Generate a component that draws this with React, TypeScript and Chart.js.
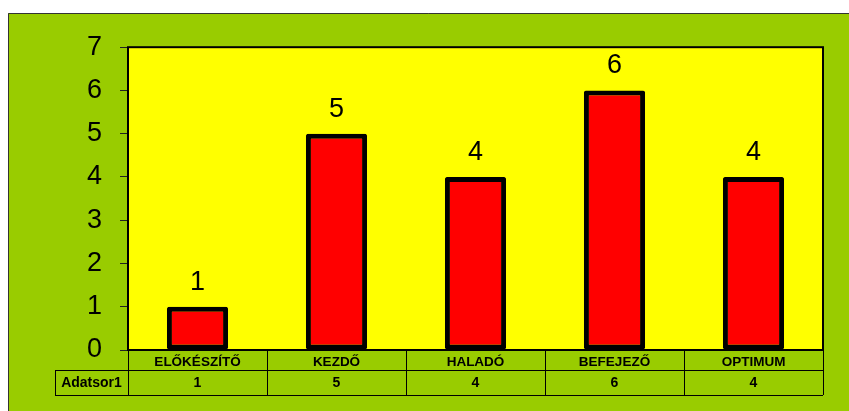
import React, { useEffect, useRef } from "react";
import { Chart, registerables } from "chart.js";

Chart.register(...registerables);

const categories = ["ELŐKÉSZÍTŐ", "KEZDŐ", "HALADÓ", "BEFEJEZŐ", "OPTIMUM"];
const seriesName = "Adatsor1";
const values = [1, 5, 4, 6, 4];
const yTicks = [0, 1, 2, 3, 4, 5, 6, 7];

const FONT = "'Liberation Sans', Arial, sans-serif";

const framePlugin = {
  id: "frame",
  beforeDraw(chart: any) {
    const { ctx, width, height } = chart;
    ctx.save();
    ctx.fillStyle = "#99CC00";
    ctx.fillRect(0, 0, width, height);
    ctx.strokeStyle = "#333333";
    ctx.lineWidth = 1;
    ctx.beginPath();
    ctx.moveTo(0.5, height);
    ctx.lineTo(0.5, 0.5);
    ctx.lineTo(width, 0.5);
    ctx.stroke();
    const a = chart.chartArea;
    ctx.fillStyle = "#FFFF00";
    ctx.fillRect(a.left, a.top, a.right - a.left, a.bottom - a.top);
    ctx.restore();
  },
  beforeDatasetsDraw(chart: any) {
    const { ctx } = chart;
    const a = chart.chartArea;
    ctx.save();
    ctx.strokeStyle = "#000000";
    ctx.lineWidth = 2;
    ctx.strokeRect(a.left, a.top, a.right - a.left, a.bottom - a.top);
    ctx.restore();
  },
  afterDatasetsDraw(chart: any) {
    const { ctx } = chart;
    const a = chart.chartArea;
    const meta = chart.getDatasetMeta(0);
    ctx.save();
    // data labels
    ctx.fillStyle = "#000000";
    ctx.font = `27px ${FONT}`;
    ctx.textAlign = "center";
    ctx.textBaseline = "alphabetic";
    meta.data.forEach((bar: any, i: number) => {
      ctx.fillText(String(values[i]), bar.x, bar.y - 17);
    });

    // data table
    const n = categories.length;
    const colW = (a.right - a.left) / n;
    const row1Top = a.bottom;
    const row1Bot = a.bottom + 20;
    const row2Bot = a.bottom + 45;
    const labelLeft = 47;
    ctx.strokeStyle = "#000000";
    ctx.lineWidth = 1;
    ctx.beginPath();
    ctx.moveTo(labelLeft, row1Bot + 0.5);
    ctx.lineTo(a.right, row1Bot + 0.5);
    ctx.moveTo(labelLeft, row2Bot + 0.5);
    ctx.lineTo(a.right, row2Bot + 0.5);
    ctx.moveTo(labelLeft + 0.5, row1Bot);
    ctx.lineTo(labelLeft + 0.5, row2Bot);
    for (let i = 0; i <= n; i++) {
      const x = Math.round(a.left + i * colW) + 0.5;
      ctx.moveTo(x, row1Top);
      ctx.lineTo(x, row2Bot);
    }
    ctx.stroke();

    ctx.textAlign = "center";
    ctx.textBaseline = "middle";
    ctx.font = `bold 13.5px ${FONT}`;
    for (let i = 0; i < n; i++) {
      const cx = a.left + (i + 0.5) * colW;
      ctx.fillText(categories[i], cx, (row1Top + row1Bot) / 2 + 2);
    }
    ctx.font = `bold 14px ${FONT}`;
    for (let i = 0; i < n; i++) {
      const cx = a.left + (i + 0.5) * colW;
      ctx.fillText(String(values[i]), cx, (row1Bot + row2Bot) / 2 + 1);
    }
    ctx.fillText(seriesName, (labelLeft + a.left) / 2, (row1Bot + row2Bot) / 2 + 1);
    ctx.restore();
  },
};

export default function App() {
  const ref = useRef<HTMLCanvasElement | null>(null);

  useEffect(() => {
    if (!ref.current) return;
    const chart = new Chart(ref.current, {
      type: "bar",
      data: {
        labels: categories,
        datasets: [
          {
            label: seriesName,
            data: values,
            backgroundColor: "#FF0000",
            borderColor: "#000000",
            borderWidth: 5,
            borderSkipped: false,
            borderRadius: 2,
            categoryPercentage: 1,
            barPercentage: 0.44,
          },
        ],
      },
      options: {
        responsive: false,
        animation: false,
        devicePixelRatio: 1,
        layout: { padding: { left: 0, top: 34, right: 26, bottom: 61 } },
        plugins: {
          legend: { display: false },
          tooltip: { enabled: false },
          title: { display: false },
        },
        scales: {
          x: { display: false },
          y: {
            min: 0,
            max: 7,
            afterFit: (scale: any) => {
              scale.width = 120;
            },
            afterBuildTicks: (scale: any) => {
              scale.ticks = yTicks.map((v) => ({ value: v }));
            },
            ticks: {
              color: "#000000",
              padding: 18,
              font: { size: 27, family: FONT },
            },
            grid: {
              drawOnChartArea: false,
              drawTicks: true,
              tickLength: 8,
              color: "#222222",
            },
            border: { display: false },
          },
        },
      },
      plugins: [framePlugin],
    });
    return () => chart.destroy();
  }, []);

  return (
    <canvas
      ref={ref}
      width={841}
      height={398}
      style={{ position: "fixed", left: 8, top: 13, display: "block", width: 841, height: 398 }}
    />
  );
}
